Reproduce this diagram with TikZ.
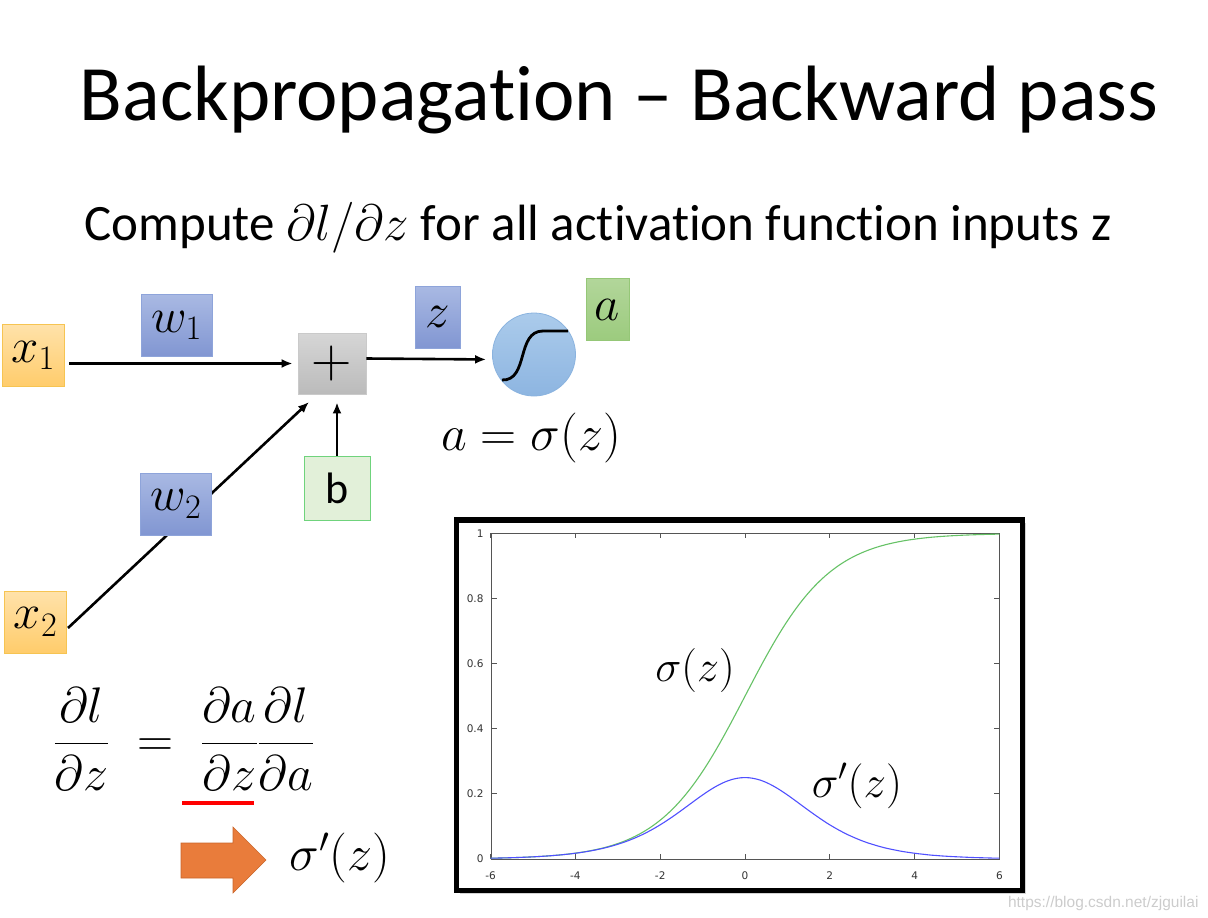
\RequirePackage{fix-cm}
\documentclass[tikz,border=0pt]{standalone}
\usepackage{fontspec}
\setmainfont[Ligatures={TeX,NoCommon}]{Carlito}
\newfontfamily\tickfont{DejaVu Sans}
\newfontfamily\markfont{Liberation Sans}
\usetikzlibrary{arrows.meta,shadows}

\definecolor{xtop}{HTML}{FFE2AA}
\definecolor{xbot}{HTML}{FFCC6B}
\definecolor{xline}{HTML}{F6C452}
\definecolor{wtop}{HTML}{A9B9E3}
\definecolor{wbot}{HTML}{8196D2}
\definecolor{wline}{HTML}{8EA4DA}
\definecolor{stop}{HTML}{D6D6D6}
\definecolor{sbot}{HTML}{BBBBBB}
\definecolor{sline}{HTML}{CACACA}
\definecolor{atop}{HTML}{B2D69A}
\definecolor{abot}{HTML}{9CCB7E}
\definecolor{aline}{HTML}{95C777}
\definecolor{bfill}{HTML}{E2F0D9}
\definecolor{bline}{HTML}{6FD37C}
\definecolor{ftop}{HTML}{ABCBEB}
\definecolor{fbot}{HTML}{8DB5E1}
\definecolor{fline}{HTML}{8AB3DF}
\definecolor{arrfill}{HTML}{E97C3B}
\definecolor{arrline}{HTML}{C9652A}
\definecolor{axisgray}{HTML}{555555}
\definecolor{sigcol}{HTML}{66C266}
\definecolor{dsigcol}{HTML}{5050FF}

\def\pX{745}
\def\pY{859}
\def\sX{42.4}
\def\sY{325.7}

\tikzset{
  inbox/.style={draw=xline, line width=0.8pt, top color=xtop, bottom color=xbot,
    minimum width=62pt, minimum height=62pt, inner sep=0pt,
    font=\fontsize{49}{49}\selectfont},
  wbox/.style={inbox, draw=wline, top color=wtop, bottom color=wbot, minimum width=71pt},
  sumbox/.style={inbox, draw=sline, top color=stop, bottom color=sbot,
    minimum width=68pt, minimum height=61pt, font=\fontsize{56}{56}\selectfont},
  bbox/.style={inbox, draw=bline, top color=bfill, bottom color=bfill,
    minimum width=66pt, minimum height=64pt, font=\fontsize{44}{44}\selectfont},
  zbox/.style={wbox, minimum width=45pt},
  abox/.style={inbox, draw=aline, top color=atop, bottom color=abot, minimum width=43pt},
  actnode/.style={circle, draw=fline, line width=0.8pt, top color=ftop, bottom color=fbot,
    minimum size=83pt, inner sep=0pt},
  wire/.style={line width=2.6pt},
  ticklbl/.style={font=\tickfont\fontsize{10.5}{10.5}\selectfont, text=black!80},
}

\begin{document}
\begin{tikzpicture}[x=1pt, y=-1pt, >={Latex[length=11pt,width=9pt]}]
  \useasboundingbox (0,0) rectangle (1208,918);

  %% heading
  \node[anchor=base, font=\fontsize{78.5}{78.5}\selectfont] (title) at (619,120)
    {Backpropagation -- Backward pass};
  \node[anchor=base, font=\fontsize{51}{51}\selectfont] (sub) at (598,240)
    {Compute $\partial l/\partial z$ for all activation function inputs z};

  %%   (lable)  (x, y)     {\text}
  \node[inbox]   (X1) at (33,355.5)  {$x_1$};
  \node[inbox]   (X2) at (35.5,622)  {$x_2$};
  \node[sumbox]  (S)  at (332,363.5) {$+$};
  \node[bbox]    (B)  at (337,488)   {b};
  \node[zbox]    (Z)  at (437.5,317) {$z$};
  \node[abox]    (A)  at (607.5,309.5) {$a$};
  \node[actnode] (F)  at (534,354.5) {};

  \coordinate (X2out) at (68,628);
  \coordinate (Sin)   at (309,402);

  \path[->, wire] (X1.east |- S.west) edge[shorten <=5pt, shorten >=5pt] (S.west);
  \path[->, wire] ([yshift=5pt]S.east) edge[shorten >=6pt] ([yshift=-5pt]F.west);
  \path[->, wire] (B.north) edge[shorten >=8pt] (B.north |- S.south);
  \path[->, wire] (X2out) edge (Sin);

  %% weights sit on top of the wires
  \node[wbox] (W1) at (176.5,325.5) {$w_1$};
  \node[wbox] (W2) at (176,504)     {$w_2$};

  %% sigmoid glyph
  \draw[line width=2.8pt] (502,380) .. controls (529,381) and (516,331) .. (543,331) -- (568,331);

  \node[font=\fontsize{50}{50}\selectfont] (aeq) at (531,438) {$a=\sigma(z)$};

  %% chain rule
  \node[font=\fontsize{50}{50}\selectfont] (rule) at (184,739)
    {$\displaystyle\frac{\partial l}{\partial z}\;=\;\frac{\partial a}{\partial z}\frac{\partial l}{\partial a}$};
  \draw[red, line width=4pt] (182,803) -- (254,803);
  \draw[draw=arrline, fill=arrfill, line width=0.6pt]
    (181,843) -- (233,843) -- (233,827) -- (266,860) -- (233,893) -- (233,878) -- (181,878) -- cycle;
  \node[font=\fontsize{50}{50}\selectfont] (dsig) at (340,858) {$\sigma'(z)$};

  %% plot of sigma and its derivative
  \draw[line width=5.5pt, fill=white,
    drop shadow={shadow xshift=3pt, shadow yshift=-3pt, opacity=0.35}]
    (456.5,520) rectangle (1022.5,890.5);
  \draw[axisgray, line width=0.8pt] (491.6,533.3) rectangle (999.4,859);
  \foreach \t [count=\i] in {-6,-4,...,6} {
    \draw[axisgray, line width=0.8pt] ({\pX+\sX*\t},\pY) -- ++(0,-5);
    \draw[axisgray, line width=0.8pt] ({\pX+\sX*\t},533.3) -- ++(0,5);
    \node[ticklbl] (xt\i) at ({\pX+\sX*\t},876) {\t};
  }
  \foreach \v [count=\i] in {0,0.2,0.4,0.6,0.8,1} {
    \draw[axisgray, line width=0.8pt] (491.6,{\pY-\sY*\v}) -- ++(5,0);
    \draw[axisgray, line width=0.8pt] (999.4,{\pY-\sY*\v}) -- ++(-5,0);
    \node[ticklbl, anchor=east] (yt\i) at (487,{\pY-\sY*\v}) {\v};
  }
  \draw[sigcol, line width=1.1pt] plot[domain=-6:6, samples=121, smooth]
    ({\pX+\sX*\x},{\pY-\sY/(1+exp(-(\x)))});
  \draw[dsigcol, line width=1.1pt] plot[domain=-6:6, samples=121, smooth]
    ({\pX+\sX*\x},{\pY-\sY/(1+exp(-(\x)))*(1-1/(1+exp(-(\x))))});
  \node[font=\fontsize{44}{44}\selectfont] (lsig)  at (695,670) {$\sigma(z)$};
  \node[font=\fontsize{45}{45}\selectfont] (ldsig) at (857,786) {$\sigma'(z)$};

  \node[anchor=east, font=\markfont\fontsize{15.5}{15.5}\selectfont, text=gray!40] (mark)
    at (1202,903) {https://blog.csdn.net/zjguilai};
\end{tikzpicture}
\end{document}
